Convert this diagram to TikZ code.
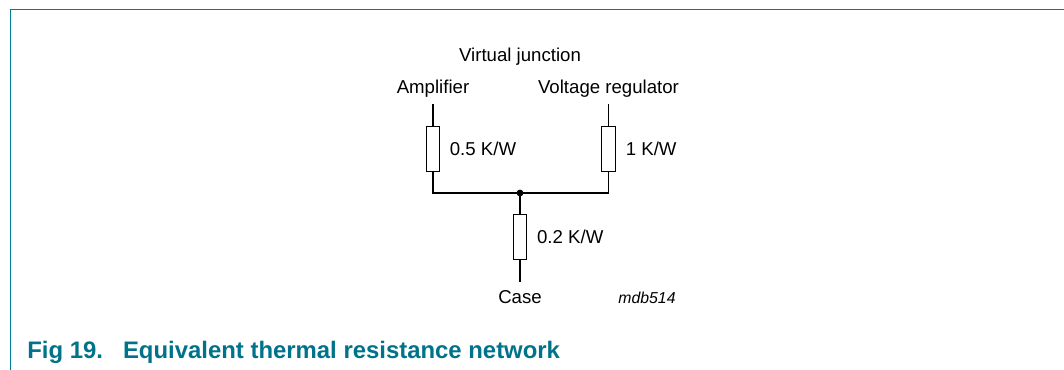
\documentclass[tikz,border=0pt]{standalone}
\usepackage{fontspec}
\setmainfont{Liberation Sans}
\usetikzlibrary{arrows}
\definecolor{frameteal}{HTML}{007B93}
\definecolor{captionteal}{HTML}{00738A}
\tikzset{
  resistor/.style={draw,shape=rectangle,inner sep=0cm,minimum width=0.266cm,minimum height=0.886cm,line width=0.6pt},
  wire/.style={line width=0.6pt},
  lbl/.style={inner sep=0cm,anchor=base,font=\fontsize{10.6}{12}\selectfont}
}

\begin{document}
\begin{tikzpicture}
  \useasboundingbox (0,0) rectangle (21.28,7.4);

  \coordinate (cornerbottom) at (0.21,0);
  \coordinate (cornertop) at (0.21,7.21);
  \coordinate (cornerright) at (21.28,7.21);
  \draw[frameteal,line width=0.7pt] (cornerbottom) -- (cornertop) -- (cornerright);

  \node[lbl] (junction) at (10.40cm,6.17cm) {Virtual junction};
  \node[lbl] (amp) at (8.66cm,5.52cm) {Amplifier};
  \node[lbl] (reg) at (12.17cm,5.52cm) {Voltage regulator};

  \coordinate (ampend) at (8.66cm,5.32cm);
  \coordinate (regend) at (12.17cm,5.32cm);
  \coordinate (caseend) at (10.40cm,1.76cm);

  \node[resistor] (R1) at (8.66cm,4.42cm) {};
  \node[resistor] (R2) at (12.17cm,4.42cm) {};
  \node[resistor] (R3) at (10.40cm,2.66cm) {};
  \node[draw,circle,fill=black,inner sep=0cm,minimum size=0.12cm] (J) at (10.40cm,3.54cm) {};

  \node[lbl,anchor=base west] (R1val) at (8.99cm,4.29cm) {0.5 K/W};
  \node[lbl,anchor=base west] (R2val) at (12.51cm,4.29cm) {1 K/W};
  \node[lbl,anchor=base west] (R3val) at (10.735cm,2.53cm) {0.2 K/W};

  \node[lbl] (case) at (10.40cm,1.32cm) {Case};
  \node[lbl,font=\fontsize{9}{11}\selectfont\itshape] (code) at (12.94cm,1.32cm) {mdb514};

  \draw[wire] (ampend) -- (R1);
  \draw[wire] (regend) -- (R2);
  \draw[wire] (R1) |- (J);
  \draw[wire] (R2) |- (J);
  \draw[wire] (J) -- (R3);
  \draw[wire] (R3) -- (caseend);

  \node[anchor=base west,inner sep=0cm,text=captionteal,font=\fontsize{13.6}{16}\selectfont\bfseries] (caption) at (0.54cm,0.225cm) {Fig 19.\hspace{0.40cm}Equivalent thermal resistance network};

\end{tikzpicture}
\end{document}
